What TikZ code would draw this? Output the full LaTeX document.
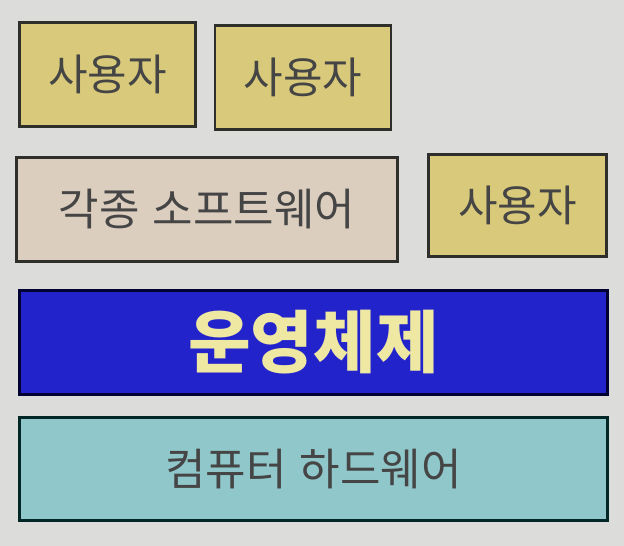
\documentclass[tikz,border=0pt]{standalone}
\usepackage{fontspec}
\setmainfont{Noto Sans CJK KR}
\definecolor{bg}{HTML}{DCDCDA}
\definecolor{userfill}{HTML}{D8CA7A}
\definecolor{swfill}{HTML}{DCCEBF}
\definecolor{osfill}{HTML}{2323CC}
\definecolor{ostext}{HTML}{EEE8A2}
\definecolor{hwfill}{HTML}{8FC7CA}
\definecolor{txt}{HTML}{454545}
\definecolor{edge}{HTML}{2E2E2A}
\begin{document}
\begin{tikzpicture}[x=1pt,y=-1pt,
  layer/.style={draw=edge,line width=2.5pt,rectangle,inner sep=0pt,text=txt,font=\fontsize{44}{48}\selectfont},
  user/.style={layer,fill=userfill,minimum width=176pt,minimum height=104pt,font=\fontsize{43}{47}\selectfont}]
\fill[bg] (0,0) rectangle (624,546);
\useasboundingbox (0,0) rectangle (624,546);
\node[user] (u1) at (107.5,74.5) {사용자};
\node[user] (u2) at (303,77.5) {사용자};
\node[layer,fill=swfill,minimum width=381pt,minimum height=104pt] (sw) at (207,209.5) {각종\hspace{0.3em}소프트웨어};
\node[user,minimum width=178pt,minimum height=102pt] (u3) at (517.5,205.5) {사용자};
\node[layer,fill=osfill,draw=black!80!blue,text=ostext,minimum width=588pt,minimum height=104pt,font=\fontsize{68}{74}\selectfont\bfseries] (os) at (313.5,342.5) {운영체제};
\node[layer,fill=hwfill,draw=black!70!teal,minimum width=588pt,minimum height=103pt] (hw) at (313.5,469) {컴퓨터\hspace{0.3em}하드웨어};
\end{tikzpicture}
\end{document}
